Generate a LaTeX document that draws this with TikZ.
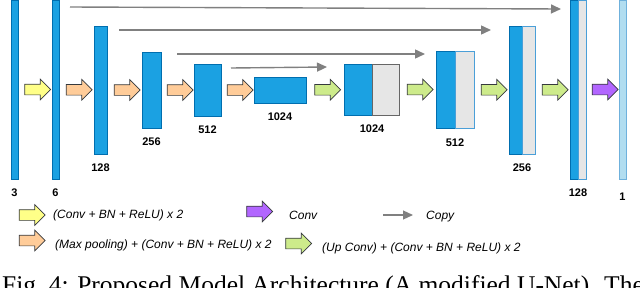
\documentclass[tikz,border=0pt]{standalone}
\usepackage{fontspec}
\setmainfont{Liberation Sans}
\newfontfamily\captionfont{Liberation Serif}
\usetikzlibrary{arrows.meta,positioning,calc,shapes.arrows}
\definecolor{featblue}{HTML}{1BA1E2}
\definecolor{featedge}{HTML}{006EAF}
\definecolor{copyfill}{HTML}{E6E6E6}
\definecolor{copyedge}{HTML}{4A9FD8}
\definecolor{darkedge}{HTML}{666666}
\definecolor{outfill}{HTML}{B1DDF0}
\definecolor{outedge}{HTML}{6FB1DC}
\definecolor{convyellow}{HTML}{FFFF88}
\definecolor{poolorange}{HTML}{FFCC99}
\definecolor{upgreen}{HTML}{CDEB8B}
\definecolor{headpurple}{HTML}{B266FF}
\definecolor{arrowedge}{HTML}{36393D}
\definecolor{copygray}{HTML}{808080}
\tikzset{
  feat/.style={draw=featedge, fill=featblue, line width=0.9pt, inner sep=0pt, outer sep=0pt},
  copied/.style={draw=copyedge, fill=copyfill, line width=0.9pt, inner sep=0pt, outer sep=0pt},
  outmap/.style={draw=outedge, fill=outfill, line width=0.9pt, inner sep=0pt, outer sep=0pt},
  flowarrow/.style={
    single arrow,
    draw=arrowedge,
    line width=0.7pt,
    minimum height=26pt,
    minimum width=20pt,
    single arrow head extend=5pt,
    inner sep=5pt
  },
  convstep/.style={flowarrow, fill=convyellow},
  poolstep/.style={flowarrow, fill=poolorange},
  upstep/.style={flowarrow, fill=upgreen},
  headstep/.style={flowarrow, fill=headpurple},
  copyline/.style={-{Triangle[length=10pt,width=9pt]}, draw=copygray, line width=1.4pt},
  lbl/.style={font=\bfseries\fontsize{11}{13}\selectfont, inner sep=0pt},
  legend/.style={font=\itshape\fontsize{12}{14}\selectfont, inner sep=0pt, anchor=base west}
}
\newcommand{\flow}[4]{\node[#2] (#1) at ($(#3.east)!0.5!(#4.west)$) {};}

\begin{document}
\begin{tikzpicture}[x=1pt, y=-1pt]
  \useasboundingbox (0,0) rectangle (640,287);
  \clip (0,0) rectangle (640,287);
  % encoder
  \node[feat, minimum width=7pt, minimum height=179pt] (enc3) at (14.5,89.5) {};
  \node[feat, minimum width=7pt, minimum height=179pt] (enc6) at (55.5,89.5) {};
  \node[feat, minimum width=13pt, minimum height=128pt] (enc128) at (100.5,90) {};
  \node[feat, minimum width=19pt, minimum height=76pt] (enc256) at (151.5,90) {};
  \node[feat, minimum width=27pt, minimum height=52pt] (enc512) at (207.5,90) {};
  \node[feat, minimum width=52pt, minimum height=26pt] (enc1024) at (280,90) {};
  % decoder
  \node[feat, minimum width=28pt, minimum height=51pt] (dec1024a) at (358,89.5) {};
  \node[copied, draw=darkedge, minimum width=27pt, minimum height=51pt, right=0pt of dec1024a] (dec1024b) {};
  \node[feat, minimum width=19pt, minimum height=77pt] (dec512a) at (445.5,89.5) {};
  \node[copied, minimum width=19pt, minimum height=77pt, right=0pt of dec512a] (dec512b) {};
  \node[feat, minimum width=13pt, minimum height=128pt] (dec256a) at (515.5,90) {};
  \node[copied, minimum width=13pt, minimum height=128pt, right=0pt of dec256a] (dec256b) {};
  \node[feat, minimum width=8pt, minimum height=179pt] (dec128a) at (574,89.5) {};
  \node[copied, minimum width=8pt, minimum height=179pt, right=0pt of dec128a] (dec128b) {};
  \node[outmap, minimum width=7pt, minimum height=179pt] (out1) at (622.5,89.5) {};
  % channel counts
  \node[lbl, below=9.5pt of enc3.south] (n3) {3};
  \node[lbl, below=9.5pt of enc6.south] (n6) {6};
  \node[lbl, below=9.5pt of enc128.south] (n128) {128};
  \node[lbl, below=9.5pt of enc256.south] (n256) {256};
  \node[lbl, below=9.5pt of enc512.south] (n512) {512};
  \node[lbl, below=9.5pt of enc1024.south] (n1024) {1024};
  \node[lbl, below=9.5pt of dec1024a.south east] (m1024) {1024};
  \node[lbl, below=10.5pt of dec512a.south east] (m512) {512};
  \node[lbl, below=9.5pt of dec256a.south east] (m256) {256};
  \node[lbl, below=9.5pt of dec128a.south east] (m128) {128};
  \node[lbl, below=14pt of out1.south] (m1) {1};
  % operations
  \flow{c1}{convstep}{enc3}{enc6}
  \flow{p1}{poolstep}{enc6}{enc128}
  \flow{p2}{poolstep}{enc128}{enc256}
  \flow{p3}{poolstep}{enc256}{enc512}
  \flow{p4}{poolstep}{enc512}{enc1024}
  \flow{u1}{upstep}{enc1024}{dec1024a}
  \flow{u2}{upstep}{dec1024b}{dec512a}
  \flow{u3}{upstep}{dec512b}{dec256a}
  \flow{u4}{upstep}{dec256b}{dec128a}
  \flow{h1}{headstep}{dec128b}{out1}
  % skip connections
  \coordinate (cp1s) at (70,7);    \coordinate (cp1e) at (561,9);
  \coordinate (cp2s) at (119,30);  \coordinate (cp2e) at (491,30);
  \coordinate (cp3s) at (177,54);  \coordinate (cp3e) at (425,54);
  \coordinate (cp4s) at (231,68);  \coordinate (cp4e) at (327,67);
  \draw[copyline] (cp1s) -- (cp1e);
  \draw[copyline] (cp2s) -- (cp2e);
  \draw[copyline] (cp3s) -- (cp3e);
  \draw[copyline] (cp4s) -- (cp4e);
  % legend
  \node[convstep] (keyconv) at (29.5,215) {};
  \node[legend] (keyconvtxt) at (53,218) {(Conv + BN + ReLU) x 2};
  \node[poolstep] (keypool) at (29.5,240.5) {};
  \node[legend] (keypooltxt) at (55,248) {(Max pooling) + (Conv + BN + ReLU) x 2};
  \node[headstep] (keyhead) at (257,211.5) {};
  \node[legend] (keyheadtxt) at (289,219) {Conv};
  \coordinate (keycopys) at (383,215);
  \coordinate (keycopye) at (413,215);
  \draw[copyline, line width=1.2pt] (keycopys) -- (keycopye);
  \node[legend] (keycopytxt) at (426,219) {Copy};
  \node[upstep] (keyup) at (296,243.5) {};
  \node[legend] (keyuptxt) at (322,251) {(Up Conv) + (Conv + BN + ReLU) x 2};
  % caption, cut by the frame
  \node[font=\captionfont\fontsize{25.5}{30}\selectfont, inner sep=0pt, anchor=base west] (caption) at (2,293)
    {Fig.~4: Proposed Model Architecture (A modified U-Net). The};
\end{tikzpicture}
\end{document}
